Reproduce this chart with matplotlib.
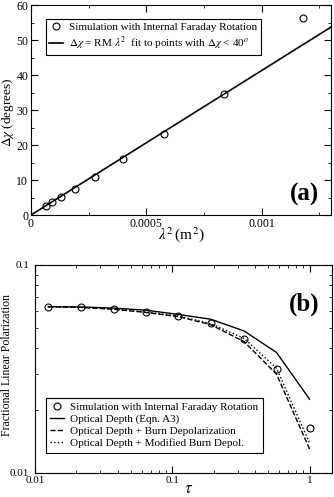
import matplotlib
matplotlib.use('Agg')
import matplotlib.pyplot as plt
import numpy as np
from matplotlib.ticker import MultipleLocator, LogLocator, NullFormatter, FixedLocator, FixedFormatter

plt.rcParams['font.family'] = 'Liberation Serif'
plt.rcParams['mathtext.fontset'] = 'stix'

# Panel (a): rotation angle vs wavelength squared
lam2 = [6.3e-5, 9.2e-5, 1.32e-4, 1.92e-4, 2.77e-4, 3.97e-4, 5.77e-4, 8.36e-4, 1.18e-3]
dchi = [2.6, 3.7, 5.2, 7.5, 11.0, 15.9, 23.1, 34.7, 56.4]
rm_slope = 41300.0  # deg / m^2
fit_x = [0.0, 0.0013]

# Panel (b): fractional polarization vs optical depth
tau = [0.0125, 0.0216, 0.0374, 0.0643, 0.111, 0.191, 0.334, 0.575, 1.0]
p_sim = [0.063, 0.0625, 0.0614, 0.0596, 0.057, 0.0524, 0.0438, 0.0316, 0.0165]
p_od = [0.063, 0.0628, 0.0620, 0.0606, 0.0578, 0.0548, 0.0481, 0.0379, 0.0226]
p_burn = [0.063, 0.0625, 0.0612, 0.0591, 0.0564, 0.0516, 0.0427, 0.0298, 0.0130]
p_mod = [0.063, 0.0626, 0.0614, 0.0594, 0.0568, 0.0522, 0.0443, 0.0318, 0.0139]

W, H = 334, 497
fig = plt.figure(figsize=(W / 100, H / 100), dpi=100)

def box(l, t, r, b):
    return [l / W, 1 - b / H, (r - l) / W, (b - t) / H]

# ---- panel (a)
ax1 = fig.add_axes(box(31, 5, 331, 215))
ax1.plot(lam2, dchi, 'o', mfc='none', mec='black', ms=5, mew=0.8,
         label='Simulation with Internal Faraday Rotation')
ax1.plot(fit_x, [rm_slope * v for v in fit_x], '-', color='black', lw=1.2,
         label=r'$\Delta\chi$ = RM $\lambda^2$  fit to points with $\Delta\chi$ < 40$^o$')
ax1.set_xlim(0, 0.0013)
ax1.set_ylim(0, 60)
ax1.xaxis.set_major_locator(FixedLocator([0, 0.0005, 0.001]))
ax1.xaxis.set_major_formatter(FixedFormatter(['0', '0.0005', '0.001']))
ax1.xaxis.set_minor_locator(MultipleLocator(0.00025))
ax1.yaxis.set_major_locator(MultipleLocator(10))
ax1.yaxis.set_minor_locator(MultipleLocator(5))
ax1.tick_params(which='both', direction='in', top=True, right=True, labelsize=8.5, pad=2)
ax1.tick_params(which='major', length=5)
ax1.tick_params(which='minor', length=2.5)
ax1.set_xlabel(r'$\lambda^2\,$(m$^2$)', fontsize=11, va='center')
ax1.xaxis.set_label_coords(0.5, -0.092)
ax1.set_ylabel(r'$\Delta\chi$ (degrees)', fontsize=9.5, va='center')
ax1.yaxis.set_label_coords(-0.077, 0.49)
ax1.text(0.96, 0.1, '(a)', transform=ax1.transAxes, fontsize=18, fontweight='bold',
         ha='right', va='center')
leg1 = ax1.legend(loc='upper left', bbox_to_anchor=((46 - 31) / 300, (215 - 19) / 210),
                  borderaxespad=0, fontsize=8, fancybox=False, edgecolor='black',
                  framealpha=1, handlelength=1.2, handletextpad=0.6, borderpad=0.3,
                  labelspacing=0.25)
leg1.get_frame().set_linewidth(0.8)

# ---- panel (b)
ax2 = fig.add_axes(box(35, 265, 331.7, 472.7))
ax2.plot(tau, p_od, '-', color='black', lw=1.0, label='Optical Depth (Eqn. A3)')
ax2.plot(tau, p_burn, '--', color='black', lw=1.0, label='Optical Depth + Burn Depolarization')
ax2.plot(tau, p_mod, ':', color='black', lw=1.0, label='Optical Depth + Modified Burn Depol.')
ax2.plot(tau, p_sim, 'o', mfc='none', mec='black', ms=5, mew=0.8,
         label='Simulation with Internal Faraday Rotation')
ax2.set_xscale('log')
ax2.set_yscale('log')
ax2.set_xlim(0.01, 1.45)
ax2.set_ylim(0.01, 0.1)
ax2.set_xticks([0.01, 0.1, 1])
ax2.set_xticklabels(['0.01', '0.1', '1'])
ax2.set_yticks([0.01, 0.1])
ax2.set_yticklabels(['0.01', '0.1'])
ax2.xaxis.set_minor_locator(LogLocator(base=10, subs=np.arange(2, 10)))
ax2.yaxis.set_minor_locator(LogLocator(base=10, subs=np.arange(2, 10)))
ax2.xaxis.set_minor_formatter(NullFormatter())
ax2.yaxis.set_minor_formatter(NullFormatter())
ax2.tick_params(which='both', direction='in', top=True, right=True, labelsize=8)
ax2.tick_params(axis='x', pad=2.5)
ax2.tick_params(axis='y', pad=4)
ax2.tick_params(which='major', length=5)
ax2.tick_params(which='minor', length=2.5)
ax2.set_xlabel(r'$\tau$', fontsize=12, va='center')
ax2.xaxis.set_label_coords(0.516, -0.08)
ax2.set_ylabel('Fractional Linear Polarization', fontsize=8.5, va='center')
ax2.yaxis.set_label_coords(-0.093, 0.518)
ax2.text(0.96, 0.81, '(b)', transform=ax2.transAxes, fontsize=18, fontweight='bold',
         ha='right', va='center')
h, l = ax2.get_legend_handles_labels()
order = [3, 0, 1, 2]
leg2 = ax2.legend([h[i] for i in order], [l[i] for i in order], loc='upper left',
                  bbox_to_anchor=((46 - 35) / 296.7, (472.7 - 397.7) / 207.7),
                  borderaxespad=0, fontsize=8, fancybox=False, edgecolor='black',
                  framealpha=1, handlelength=1.2, handletextpad=0.6, borderpad=0.4,
                  labelspacing=0.2)
leg2.get_frame().set_linewidth(0.8)

fig.savefig('out.png', dpi=100)
